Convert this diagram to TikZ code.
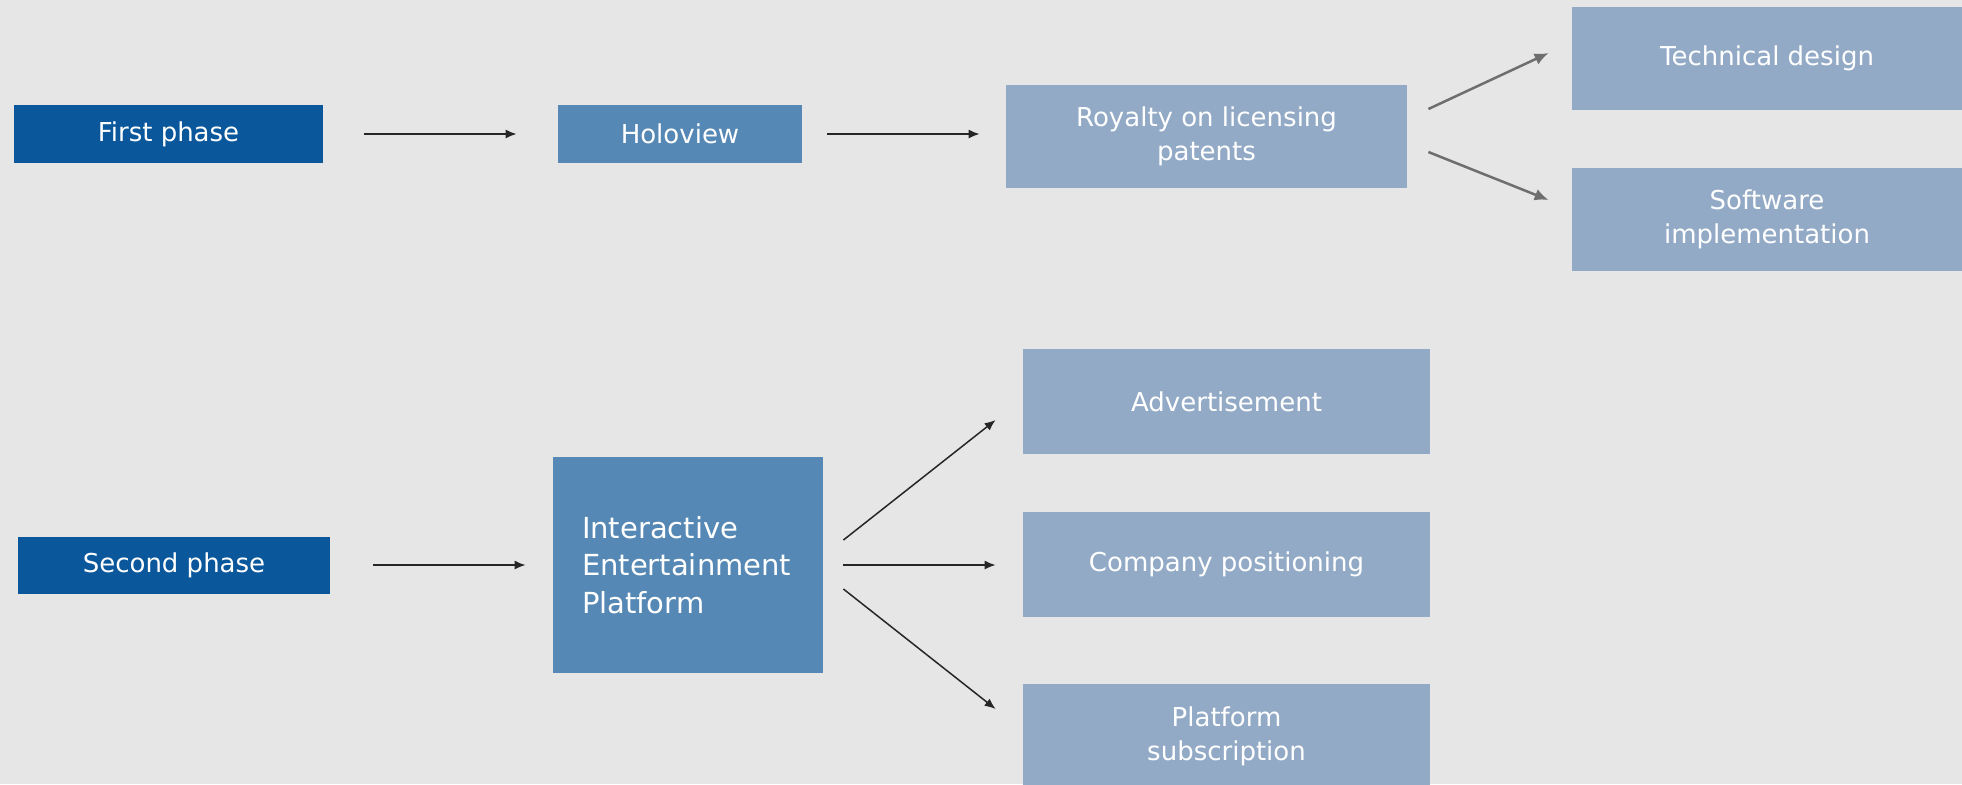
\documentclass[tikz,border=0pt]{standalone}
\usepackage{fontspec}
\setmainfont{DejaVu Sans}
\usetikzlibrary{arrows.meta,calc}
\definecolor{bg}{RGB}{230,230,230}
\definecolor{darkblue}{RGB}{10,88,155}
\definecolor{midblue}{RGB}{85,136,180}
\definecolor{lightblue}{RGB}{146,170,198}
\definecolor{arrgray}{RGB}{110,110,110}
\tikzset{
  box/.style={rectangle, inner sep=0pt, text=white, align=center,
    font=\fontsize{13pt}{17pt}\selectfont},
  darkbox/.style={box, fill=darkblue},
  midbox/.style={box, fill=midblue},
  lightbox/.style={box, fill=lightblue},
  arr/.style={draw=black!85, line width=0.75pt, -{Latex[length=5.5pt,width=4.5pt]}},
  grayarr/.style={draw=arrgray, line width=1.25pt, -{Latex[length=7pt,width=6pt]}}
}
\begin{document}
\begin{tikzpicture}[x=0.5pt,y=-0.5pt]
\useasboundingbox (0,0) rectangle (1962,784);
\fill[bg] (0,0) rectangle (1962,784);
\clip (0,0) rectangle (1962,784);
% first row
\node[darkbox, minimum width=154.5pt, minimum height=29pt] (fp) at (168.5,134) {First phase};
\node[midbox, minimum width=122pt, minimum height=29pt] (holo) at (680,134) {Holoview};
\node[lightbox, minimum width=200.5pt, minimum height=51.5pt] (roy) at (1206.5,136.5) {Royalty on licensing\\patents};
\node[lightbox, minimum width=195pt, minimum height=51.5pt] (tech) at (1767,58.5) {Technical design};
\node[lightbox, minimum width=195pt, minimum height=51.5pt] (soft) at (1767,219.5) {Software\\implementation};
% second row
\node[darkbox, minimum width=156pt, minimum height=28.5pt] (sp) at (174,565) {Second phase};
\node[midbox, minimum width=135pt, minimum height=108pt, align=left, text width=106pt,
  font=\fontsize{14.5pt}{18.75pt}\selectfont] (iep) at (688,565) {Interactive\\Entertainment\\Platform};
\node[lightbox, minimum width=203.5pt, minimum height=52.5pt] (adv) at (1226.5,401.5) {Advertisement};
\node[lightbox, minimum width=203.5pt, minimum height=52.5pt] (comp) at (1226.5,564.5) {Company positioning};
\node[lightbox, minimum width=203.5pt, minimum height=52.5pt] (plat) at (1226.5,736.5) {Platform\\subscription};
% connectors
\draw[arr, shorten <=20.5pt, shorten >=20.5pt] (fp.east) -- (holo.west);
\draw[arr, shorten <=12.5pt, shorten >=13pt] (holo.east) -- (holo.east -| roy.west);
\draw[grayarr] ($(roy.east)+(21,-27.5)$) -- ($(tech.west)+(-23,-5.5)$);
\draw[grayarr] ($(roy.east)+(21,15.5)$) -- ($(soft.west)+(-23,-19.5)$);
\draw[arr, shorten <=21.5pt, shorten >=13.5pt] (sp.east) -- (iep.west);
\draw[arr] ($(iep.east)+(20,-25)$) -- ($(adv.west)+(-27,18.5)$);
\draw[arr, shorten <=10pt, shorten >=13.5pt] (iep.east) -- (iep.east -| comp.west);
\draw[arr] ($(iep.east)+(20,24)$) -- ($(plat.west)+(-27,-27.5)$);
\end{tikzpicture}
\end{document}
